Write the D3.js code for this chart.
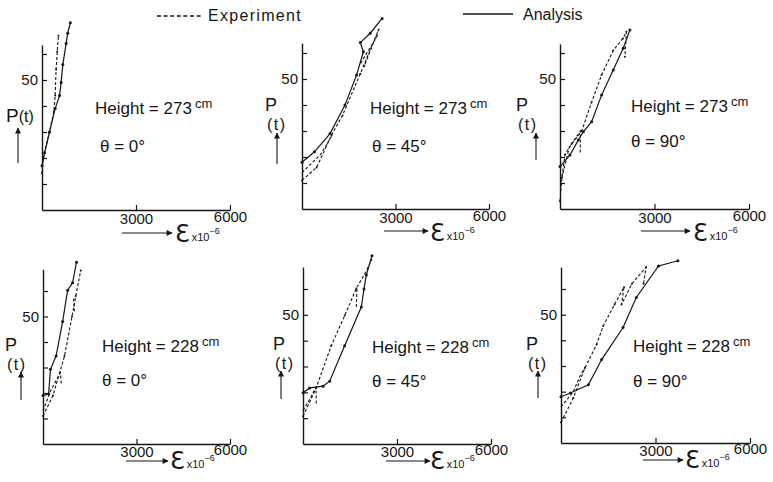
<!DOCTYPE html>
<html>
<head>
<meta charset="utf-8">
<script src="https://cdn.jsdelivr.net/npm/d3@7"></script>
<style>
    body { margin: 0; background: #fff; }
    svg { display: block; }
    text { font-family: 'Liberation Sans', Arial, sans-serif; fill: #161616; }
</style>
</head>
<body>
<div id="chart"></div>
<script>
// strain (x10^-6) against load P (t)
const xTicks = [3000, 6000];
const yTicks = [10, 20, 30, 40, 50, 60];
const heights = ['273', '273', '273', '228', '228', '228'];
const angles = ['0°', '45°', '90°', '0°', '45°', '90°'];

const analysis273_0 = [[0, 17], [85, 22], [240, 30], [420, 39], [560, 44], [610, 49], [665, 56], [770, 64], [820, 68], [905, 72]];
const experiment273_0 = [
    [[0, 14], [30, 20], [240, 30], [380, 38], [420, 44], [450, 54], [485, 61], [525, 67]]
];

const analysis273_45 = [[0, 18], [400, 22], [900, 29], [1380, 40], [1750, 51.5], [1970, 60.5], [1870, 64], [2190, 67.6], [2570, 73.3]];
const experiment273_45 = [
    [[0, 11], [470, 16], [950, 28.5], [1300, 36], [1870, 52], [2460, 69], [2000, 55]],
    [[0, 14], [600, 21], [950, 28]],
    [[1880, 56], [2440, 67]]
];

const analysis273_90 = [[0, 16.3], [317, 20.8], [580, 26.5], [740, 29.7], [1004, 33.6], [1321, 43.8], [1690, 53.5], [2007, 61.8], [2219, 68.8]];
const experiment273_90 = [
    [[0, 3], [60, 12], [160, 21], [370, 25], [690, 30], [1000, 41], [1320, 51.5], [1690, 61], [2000, 65.6], [2110, 68.2], [2060, 58.6]],
    [[20, 10], [300, 24], [650, 30], [640, 21]]
];

const analysis228_0 = [[0, 19], [180, 19.6], [240, 29.3], [420, 34.5], [630, 48], [790, 60.3], [950, 63.2], [1075, 71.3]];
const experiment228_0 = [
    [[0, 11], [320, 19], [690, 34.5], [930, 50], [1050, 58], [1210, 68]],
    [[0, 13], [250, 21], [560, 28], [590, 23]],
    [[980, 57], [1010, 52]]
];

const analysis228_45 = [[0, 19.8], [213, 21.7], [638, 22.4], [851, 24.3], [1329, 38], [1861, 53], [1946, 60], [2020, 65.4], [2201, 72.9]];
const experiment228_45 = [
    [[0, 10.7], [420, 21.7], [900, 38], [1330, 49.7], [1700, 60.2], [2070, 68], [2180, 71.2]],
    [[0, 13], [200, 17], [416, 22], [425, 15]],
    [[1720, 60], [1700, 53]]
];

const analysis228_90 = [[0, 18], [300, 19.5], [870, 22.7], [1290, 32.5], [1970, 45], [2390, 56.7], [3097, 69], [3710, 71]];
const experiment228_90 = [
    [[0, 8], [390, 17.5], [760, 29.3], [1130, 38.4], [1340, 45.6], [1700, 54], [2000, 60.7], [1920, 54], [2250, 62], [2700, 68.5], [2620, 62]],
    [[0, 14], [390, 20], [600, 26], [760, 29.3]]
];

const panels = [
    {analysis: analysis273_0, experiment: experiment273_0},
    {analysis: analysis273_45, experiment: experiment273_45},
    {analysis: analysis273_90, experiment: experiment273_90},
    {analysis: analysis228_0, experiment: experiment228_0},
    {analysis: analysis228_45, experiment: experiment228_45},
    {analysis: analysis228_90, experiment: experiment228_90}
];

// frame of each small plot, in pixels, and offsets of its labels from the origin
const layout = [
    {left: 42, right: 230, bottom: 210, y60: 54, top: 63.5, pad: 3, height: [53, -96], theta: [58, -58], p: [-36, -88], inline: true, pArrow: [-24, -47, -82], xArrow: [80, 130, 23], eps: [133, 32]},
    {left: 302, right: 489, bottom: 209, y60: 53, top: 63.8, pad: 3, height: [68, -95], theta: [70, -57], p: [-37, -98], pArrow: [-25, -45, -76], xArrow: [82, 126, 22], eps: [128, 32]},
    {left: 560, right: 749, bottom: 209, y60: 53, top: 63.5, pad: 3, height: [71, -97], theta: [71, -62], p: [-44, -98], pArrow: [-24, -49, -76], xArrow: [81, 130, 22], eps: [133, 32]},
    {left: 43, right: 230, bottom: 444, y60: 291, top: 68.5, pad: 2, height: [59, -92], theta: [59, -58], p: [-38, -93], pArrow: [-22, -44, -72], xArrow: [83, 125, 17], eps: [127, 25]},
    {left: 303, right: 491, bottom: 444, y60: 289, top: 68.5, pad: 2, height: [69, -91], theta: [69, -57], p: [-30, -94], pArrow: [-22, -45, -73], xArrow: [83, 127, 17], eps: [127, 25]},
    {left: 561, right: 750, bottom: 443, y60: 289, top: 68.5, pad: 2, height: [72, -91], theta: [72, -56], p: [-35, -93], pArrow: [-23, -45, -72], xArrow: [82, 122, 17], eps: [124, 25]}
];

class Figure {

    init() {
        this.svg = d3.select('#chart').append('svg')
            .attr('width', 773)
            .attr('height', 482);
        this.ink = '#161616';

        this.svg.append('defs').append('marker')
            .attr('id', 'head')
            .attr('viewBox', '0 0 10 10')
            .attr('refX', 9).attr('refY', 5)
            .attr('markerWidth', 7).attr('markerHeight', 6)
            .attr('markerUnits', 'userSpaceOnUse')
            .attr('orient', 'auto')
            .append('path')
            .attr('d', 'M0,0 L10,5 L0,10 Z')
            .attr('fill', this.ink);

        this.showLegend();
        for (let i = 0; i < panels.length; i++) {
            this.showPanel(panels[i], layout[i], heights[i], angles[i]);
        }
    }

    showLegend() {
        this.svg.append('line')
            .attr('x1', 157).attr('x2', 203).attr('y1', 16).attr('y2', 16)
            .attr('stroke', this.ink).attr('stroke-width', 1.3)
            .attr('stroke-dasharray', '4 2.6');
        this.svg.append('text')
            .attr('x', 208).attr('y', 21)
            .style('font-size', '16px').style('letter-spacing', '1.3px')
            .text('Experiment');
        this.svg.append('line')
            .attr('x1', 463).attr('x2', 513).attr('y1', 14).attr('y2', 14)
            .attr('stroke', this.ink).attr('stroke-width', 1.3);
        this.svg.append('text')
            .attr('x', 523).attr('y', 20)
            .style('font-size', '16px')
            .text('Analysis');
    }

    showPanel(panel, l, height, angle) {
        let x = d3.scaleLinear().domain([0, 6000]).range([l.left, l.right]);
        let unit = (l.bottom - l.y60) / 60;
        let y = d3.scaleLinear().domain([0, l.top]).range([l.bottom, l.bottom - unit * l.top]);
        let g = this.svg.append('g');

        // axes
        let yAxis = d3.axisLeft(y)
            .tickValues(yTicks)
            .tickSizeInner(-5).tickSizeOuter(0).tickPadding(4)
            .tickFormat(d => d === 50 ? '50' : '');
        let ya = g.append('g').attr('transform', `translate(${l.left},0)`).call(yAxis);

        let xAxis = d3.axisBottom(x)
            .tickValues(xTicks)
            .tickSizeInner(-5).tickSizeOuter(0).tickPadding(l.pad)
            .tickFormat(d3.format('d'));
        let xa = g.append('g').attr('transform', `translate(0,${l.bottom})`).call(xAxis);

        [ya, xa].forEach(a => {
            a.select('.domain').attr('stroke', this.ink).attr('stroke-width', 1.4);
            a.selectAll('.tick line').attr('stroke', this.ink).attr('stroke-width', 1.2);
            a.selectAll('.tick text')
                .attr('fill', this.ink)
                .style('font-family', "'Liberation Sans', Arial, sans-serif")
                .style('font-size', '15px');
        });
        xa.selectAll('.tick text').filter(d => d === 6000).attr('y', l.pad - 2);

        // curves
        let line = d3.line().x(d => x(d[0])).y(d => y(d[1]));

        panel.experiment.forEach(part => {
            g.append('path')
                .attr('d', line(part))
                .attr('fill', 'none')
                .attr('stroke', this.ink)
                .attr('stroke-width', 1.1)
                .attr('stroke-dasharray', '3 2');
        });
        g.append('path')
            .attr('d', line(panel.analysis))
            .attr('fill', 'none')
            .attr('stroke', this.ink)
            .attr('stroke-width', 1.2);

        g.selectAll('circle.a')
            .data(panel.analysis)
            .enter().append('circle')
            .attr('cx', d => x(d[0]))
            .attr('cy', d => y(d[1]))
            .attr('r', 1.5)
            .attr('fill', this.ink);

        g.selectAll('circle.e')
            .data(panel.experiment[0])
            .enter().append('circle')
            .attr('cx', d => x(d[0]))
            .attr('cy', d => y(d[1]))
            .attr('r', 1)
            .attr('fill', this.ink);

        // texts
        let ox = l.left, oy = l.bottom;
        let ht = g.append('text')
            .attr('x', ox + l.height[0]).attr('y', oy + l.height[1])
            .style('font-size', '17px');
        ht.append('tspan').text('Height = ' + height);
        ht.append('tspan').attr('dx', 3).attr('dy', -6).style('font-size', '13px').text('cm');

        g.append('text')
            .attr('x', ox + l.theta[0]).attr('y', oy + l.theta[1])
            .style('font-size', '17px')
            .text('θ = ' + angle);

        if (l.inline) {
            let pt = g.append('text')
                .attr('x', ox + l.p[0]).attr('y', oy + l.p[1])
                .style('font-size', '19px');
            pt.append('tspan').text('P');
            pt.append('tspan').style('font-size', '16px').text('(t)');
        } else {
            g.append('text')
                .attr('x', ox + l.p[0]).attr('y', oy + l.p[1])
                .style('font-size', '18px').text('P');
            g.append('text')
                .attr('x', ox + l.p[0] + 2).attr('y', oy + l.p[1] + 19)
                .style('font-size', '16px').style('letter-spacing', '1.5px').text('(t)');
        }

        g.append('line')
            .attr('x1', ox + l.pArrow[0]).attr('x2', ox + l.pArrow[0])
            .attr('y1', oy + l.pArrow[1]).attr('y2', oy + l.pArrow[2])
            .attr('stroke', this.ink).attr('stroke-width', 1.1)
            .attr('marker-end', 'url(#head)');

        g.append('line')
            .attr('x1', ox + l.xArrow[0]).attr('x2', ox + l.xArrow[1])
            .attr('y1', oy + l.xArrow[2]).attr('y2', oy + l.xArrow[2])
            .attr('stroke', this.ink).attr('stroke-width', 1.1)
            .attr('marker-end', 'url(#head)');

        let et = g.append('text')
            .attr('x', ox + l.eps[0]).attr('y', oy + l.eps[1]);
        et.append('tspan')
            .style('font-family', "'DejaVu Sans', sans-serif")
            .style('font-size', '24px').text('Ɛ');
        et.append('tspan').attr('dx', 2).attr('dy', -1).style('font-size', '11px').text('x10');
        et.append('tspan').attr('dy', -7).style('font-size', '9px').text('−6');
    }
}

window.figure = new Figure();
window.figure.init();
</script>
</body>
</html>
